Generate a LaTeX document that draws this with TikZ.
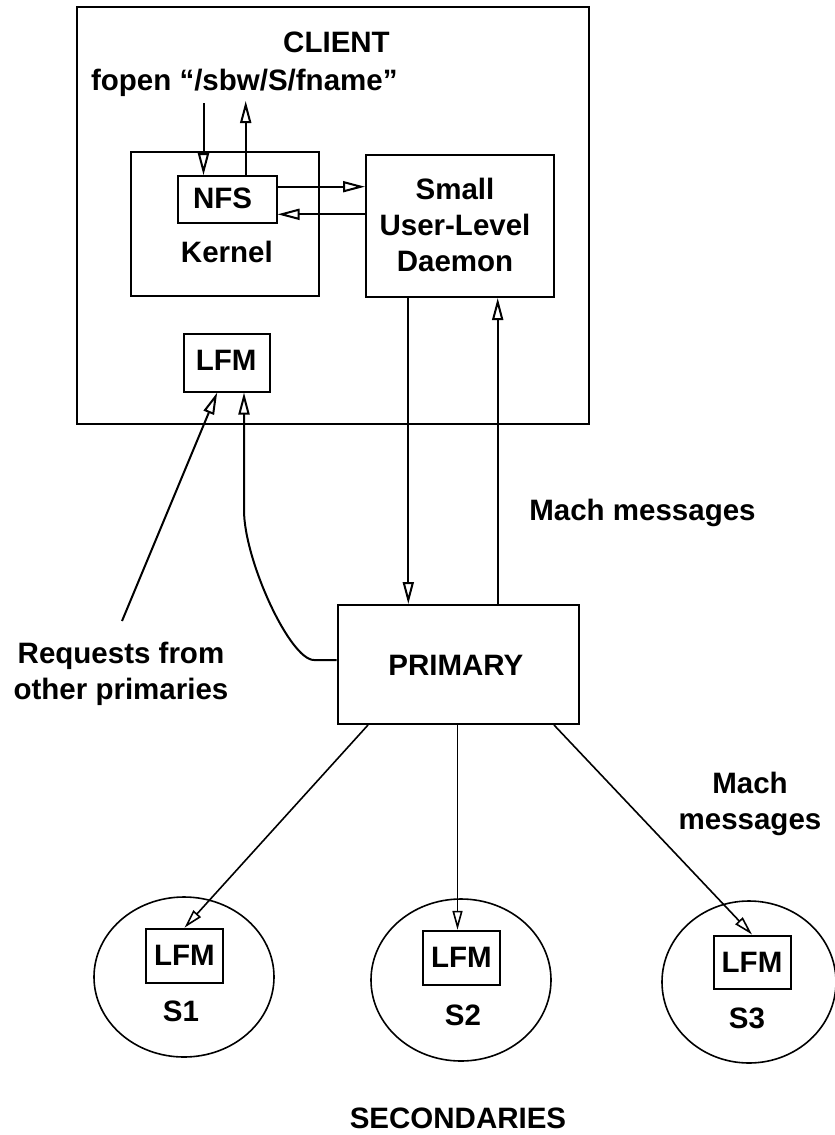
\documentclass[tikz,border=0pt]{standalone}
\usepackage{fontspec}
\setmainfont{Liberation Sans}
\usetikzlibrary{arrows.meta,shapes.geometric}
\begin{document}
\begin{tikzpicture}[x=1pt,y=-1pt,
  font=\bfseries\fontsize{29.5}{36}\selectfont,
  box/.style={draw,line width=2pt,rectangle,inner sep=0pt},
  txt/.style={inner sep=0pt,align=center},
  oval/.style={draw,line width=1.6pt,ellipse,inner sep=0pt},
  arr/.style={line width=2pt,-{Triangle[open,length=22pt,width=11pt]}},
  thin arr/.style={line width=1.6pt,-{Triangle[open,length=19pt,width=10pt]}}]
\useasboundingbox (0,0) rectangle (835,1135);

% client host
\node[box,minimum width=512pt,minimum height=417pt] (client) at (333,215.5) {};
\node[txt] (clientlbl) at (336.5,42) {CLIENT};
\node[txt] (fopen) at (244.3,83) {fopen “/sbw/S/fname”};
\node[box,minimum width=187.5pt,minimum height=144pt] (kernel) at (224.8,224) {};
\node[txt] (kernellbl) at (226.9,252) {Kernel};
\node[box,minimum width=99pt,minimum height=47pt] (nfs) at (227,199.7) {};
\node[txt] (nfslbl) at (222.6,198.5) {NFS};
\node[box,minimum width=188pt,minimum height=142pt] (daemon) at (460,226) {};
\node[txt] (daemonlbl) at (455,225) {Small\\User-Level\\Daemon};
\node[box,minimum width=86pt,minimum height=58pt] (lfm) at (227,362.5) {};
\node[txt] (lfmlbl) at (226.2,360.5) {LFM};

% primary server
\node[box,minimum width=241pt,minimum height=119pt] (primary) at (458,664.5) {};
\node[txt] (primarylbl) at (455.8,665) {PRIMARY};

% secondaries
\node[oval,minimum width=180pt,minimum height=160pt] (s1) at (184,977) {};
\node[oval,minimum width=180pt,minimum height=162pt] (s2) at (461,980) {};
\node[oval,minimum width=174pt,minimum height=162pt] (s3) at (749,982) {};
\node[box,minimum width=77pt,minimum height=54pt] (lfm1) at (184.5,955.7) {};
\node[box,minimum width=77pt,minimum height=54pt] (lfm2) at (461.5,957.8) {};
\node[box,minimum width=77pt,minimum height=53pt] (lfm3) at (752,962) {};
\node[txt] at (lfm1) {LFM};
\node[txt] at (lfm2) {LFM};
\node[txt] at (lfm3) {LFM};
\node[txt] (s1lbl) at (181,1011.7) {S1};
\node[txt] (s2lbl) at (463,1015) {S2};
\node[txt] (s3lbl) at (747,1018) {S3};

% free labels
\node[txt] (req) at (121,674) {Requests from\\other primaries};
\node[txt] (mach1) at (642.5,513) {Mach messages};
\node[txt] (mach2) at (750,804) {Mach\\messages};
\node[txt] (sec) at (458,1118) {SECONDARIES};

% reference points for the connectors
\coordinate (fdown) at (203.5,103);
\coordinate (fup) at (245.7,101);
\coordinate (n1) at ([yshift=13pt]nfs.east);
\coordinate (n2) at ([yshift=-14.6pt]nfs.east);
\coordinate (xdown) at (408.3,0);
\coordinate (xup) at (497.7,0);
\coordinate (rq) at (122,621);
\coordinate (xreq) at (217.2,0);
\coordinate (xloop) at (244,0);
\coordinate (p0) at ([yshift=4.5pt]primary.west);
\coordinate (p1) at (314,660);
\coordinate (p2) at (244,510);
\coordinate (b1) at (368,0);
\coordinate (b2) at (457.5,0);
\coordinate (b3) at (554,0);

% fopen call into NFS and its return
\draw[arr] (fdown) -- (fdown |- nfs.north);
\draw[arr] (fup |- nfs.north) -- (fup);
% NFS <-> daemon
\draw[arr] (n1) -- (n1 -| daemon.west);
\draw[arr] (n2 -| daemon.west) -- (n2);
% daemon <-> primary
\draw[arr] (daemon.south -| xdown) -- (primary.north -| xdown);
\draw[arr] (primary.north -| xup) -- (daemon.south -| xup);
% requests into the client LFM
\draw[arr] (rq) -- (lfm.south -| xreq);
\draw[arr] (p0) -- (p1) .. controls (290,660) and (244,560) .. (p2) -- (lfm.south -| xloop);
% primary to secondaries
\draw[thin arr] (primary.south -| b1) -- (lfm1.north);
\draw[thin arr] (primary.south -| b2) -- (lfm2.north -| b2);
\draw[thin arr] (primary.south -| b3) -- (lfm3.north);
\end{tikzpicture}
\end{document}
